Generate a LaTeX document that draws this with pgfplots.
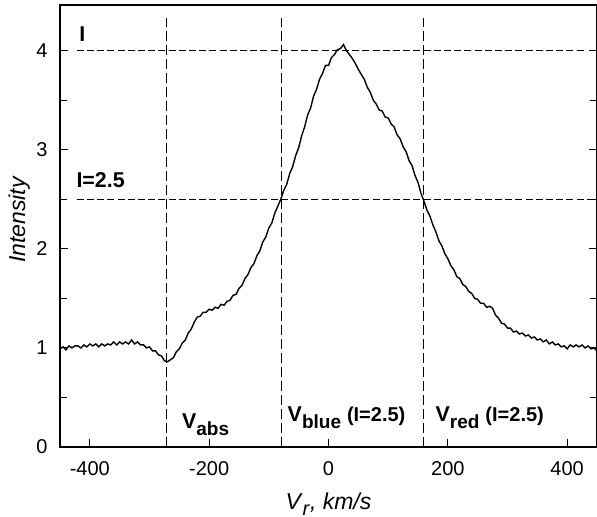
\documentclass[border=0pt]{standalone}
\usepackage{fontspec}
\setmainfont{Liberation Sans}
\usepackage{pgfplots}
\pgfplotsset{compat=1.18}
\pgfplotstableread{
x y
-450 0.99
-445 1.01
-440 0.98
-435 1.02
-430 1.00
-425 1.02
-420 1.02
-415 1.00
-410 1.03
-405 1.01
-400 1.04
-395 1.02
-390 1.04
-385 1.01
-380 1.04
-375 1.02
-370 1.04
-365 1.03
-360 1.06
-355 1.03
-350 1.06
-345 1.04
-340 1.06
-335 1.04
-330 1.08
-325 1.04
-320 1.06
-315 1.03
-310 1.03
-305 1.00
-300 1.01
-295 0.97
-290 0.97
-285 0.93
-280 0.92
-275 0.87
-270 0.86
-265 0.88
-260 0.90
-255 0.96
-250 0.99
-245 1.05
-240 1.08
-235 1.15
-230 1.19
-225 1.26
-220 1.31
-215 1.32
-210 1.36
-205 1.36
-200 1.39
-195 1.38
-190 1.41
-185 1.40
-180 1.44
-175 1.43
-170 1.47
-165 1.48
-160 1.53
-155 1.54
-150 1.60
-145 1.63
-140 1.70
-135 1.74
-130 1.81
-125 1.85
-120 1.93
-115 1.98
-110 2.07
-105 2.12
-100 2.21
-95 2.26
-90 2.36
-85 2.43
-80 2.50
-75 2.59
-70 2.65
-65 2.76
-60 2.83
-55 2.94
-50 3.02
-45 3.14
-40 3.23
-35 3.35
-30 3.42
-25 3.54
-20 3.61
-15 3.71
-10 3.77
-5 3.85
0 3.85
5 3.93
10 3.96
15 4.01
20 4.02
25 4.06
30 4.00
35 3.96
40 3.92
45 3.87
50 3.81
55 3.76
60 3.71
65 3.63
70 3.58
75 3.50
80 3.46
85 3.40
90 3.39
95 3.33
100 3.32
105 3.26
110 3.23
115 3.15
120 3.11
125 3.03
130 2.98
135 2.89
140 2.84
145 2.74
150 2.67
155 2.56
160 2.48
165 2.39
170 2.33
175 2.24
180 2.17
185 2.08
190 2.03
195 1.95
200 1.90
205 1.83
210 1.79
215 1.72
220 1.70
225 1.64
230 1.62
235 1.57
240 1.55
245 1.50
250 1.49
255 1.45
260 1.45
265 1.41
270 1.42
275 1.40
280 1.33
285 1.30
290 1.25
295 1.24
300 1.20
305 1.20
310 1.16
315 1.17
320 1.14
325 1.15
330 1.12
335 1.13
340 1.10
345 1.11
350 1.08
355 1.09
360 1.06
365 1.08
370 1.04
375 1.06
380 1.03
385 1.04
390 1.01
395 1.02
400 0.99
405 1.03
410 1.01
415 1.03
420 1.01
425 1.03
430 1.00
435 1.02
440 0.99
445 1.00
450 0.97
}\spectrum
\begin{document}
\fontsize{10}{12}\selectfont
\begin{tikzpicture}
\begin{axis}[
  scale only axis,
  width=268.5pt, height=221pt,
  xmin=-450, xmax=450, ymin=0, ymax=4.46,
  xtick={-400,-200,0,200,400},
  xticklabels={-400,-200,0,200,400},
  ytick={0,1,2,3,4},
  yticklabels={0,1,2,3,4},
  minor ytick={0.5,1.5,2.5,3.5},
  tick align=inside,
  xtick pos=lower,
  ytick pos=both,
  major tick length=4pt,
  minor tick length=3.5pt,
  axis line style={line width=0.7pt},
  every tick/.style={black, line width=0.6pt},
  xticklabel style={anchor=base, yshift=-14pt},
  yticklabel style={anchor=east, inner sep=0pt, xshift=-6pt},
  xlabel={\fontsize{11.5}{13}\selectfont\textit{V}\raisebox{-3pt}{\fontsize{10}{11}\selectfont\textit{r}}\textit{, km/s}},
  xlabel style={at={(axis description cs:0.5,-0.1403)}, anchor=base},
  ylabel={\fontsize{11.5}{13}\selectfont\textit{Intensity}},
  ylabel style={at={(axis description cs:-0.065,0.515)}, anchor=base},
  clip=false,
]
\addplot[black, line width=0.5pt, dash pattern=on 3.5pt off 1.6pt] coordinates {(-422,4) (432,4)};
\addplot[black, line width=0.5pt, dash pattern=on 3.5pt off 1.6pt] coordinates {(-422,2.5) (450,2.5)};
\addplot[black, line width=0.5pt, dash pattern=on 5pt off 2pt] coordinates {(-271,0) (-271,4.33)};
\addplot[black, line width=0.5pt, dash pattern=on 5pt off 2pt] coordinates {(-79,0) (-79,4.33)};
\addplot[black, line width=0.5pt, dash pattern=on 5pt off 2pt] coordinates {(159,0) (159,4.33)};
\addplot[black, line width=0.7pt] table[x=x, y=y] {\spectrum};
\node[anchor=base west, inner sep=0pt] at (axis cs:-418,4.09) {\fontsize{10.7}{12}\selectfont\textbf{I}};
\node[anchor=base west, inner sep=0pt] at (axis cs:-423,2.62) {\fontsize{10.7}{12}\selectfont\textbf{I=2.5}};
\node[anchor=base west, inner sep=0pt] at (axis cs:-246,0.19) {\fontsize{10.7}{12}\selectfont\textbf{V}\raisebox{-3.5pt}{\fontsize{9.5}{10}\selectfont\textbf{abs}}};
\node[anchor=base west, inner sep=0pt] at (axis cs:-69,0.26) {\fontsize{10.7}{12}\selectfont\textbf{V}\raisebox{-3.5pt}{\fontsize{9.5}{10}\selectfont\textbf{blue}} {\fontsize{10}{11}\selectfont\textbf{(I=2.5)}}};
\node[anchor=base west, inner sep=0pt] at (axis cs:179,0.26) {\fontsize{10.7}{12}\selectfont\textbf{V}\raisebox{-3.5pt}{\fontsize{9.5}{10}\selectfont\textbf{red}} {\fontsize{10}{11}\selectfont\textbf{(I=2.5)}}};
\end{axis}
\pgfresetboundingbox
\path ([xshift=-30pt,yshift=-35pt]current axis.south west) rectangle ([yshift=2.5pt]current axis.north east);
\end{tikzpicture}
\end{document}
